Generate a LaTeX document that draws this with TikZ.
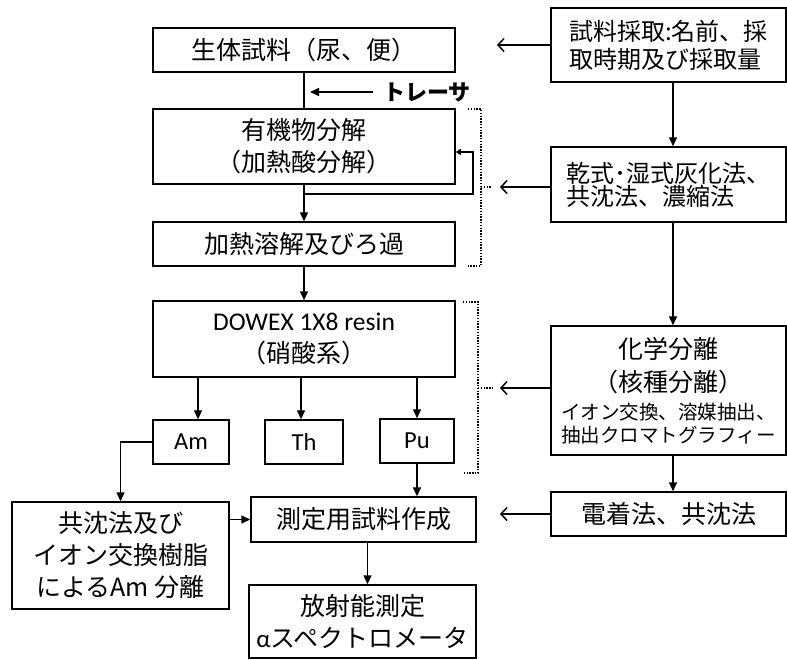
\documentclass[tikz,border=0pt]{standalone}
\usepackage{fontspec}
\setmainfont{Noto Sans CJK JP}
\newfontfamily\lat{Carlito}
\usetikzlibrary{arrows.meta}
\newcommand\fs[2]{\fontsize{#1}{#2}\selectfont}
\begin{document}
\begin{tikzpicture}[x=1pt,y=-1pt,
 box/.style={draw,line width=1.5pt,inner sep=0pt,align=center,font=\fs{25}{32}},
 arr/.style={line width=1.5pt,-{Triangle[length=9pt,width=8pt]}},
 sarr/.style={line width=1.5pt,-{Triangle[length=5pt,width=6pt]}},
 openarr/.style={line width=1.5pt,-{Straight Barb[length=6pt,width=13pt,line width=1.5pt]}},
 ln/.style={line width=1.5pt},
 dotline/.style={line width=1.6pt,dash pattern=on 1.4pt off 1.4pt}]
\useasboundingbox (0,0) rectangle (787,659);
% left column
\node[box,minimum width=302pt,minimum height=44pt] (b1) at (304,50) {生体試料（尿、便）};
\node[box,minimum width=302pt,minimum height=75pt] (b2) at (304,146.5) {有機物分解\\（加熱酸分解）};
\node[box,minimum width=302pt,minimum height=44pt] (b3) at (304,244) {加熱溶解及びろ過};
\node[box,minimum width=302pt,minimum height=76pt] (dw) at (304,339) {{\lat\fs{25.5}{32}DOWEX 1X8 resin}\\（硝酸系）};
\node[box,minimum width=76pt,minimum height=44pt,font=\lat\fs{24.5}{30}] (am) at (191,442) {Am};
\node[box,minimum width=78pt,minimum height=44pt,font=\lat\fs{24.5}{30}] (th) at (304,442) {Th};
\node[box,minimum width=74pt,minimum height=44pt,font=\lat\fs{24.5}{30}] (pu) at (417,441) {Pu};
\node[box,minimum width=217pt,minimum height=107pt] (kb) at (120.5,555.5) {共沈法及び\\イオン交換樹脂\\によるAm 分離};
\node[box,minimum width=225pt,minimum height=45pt] (ms) at (363.5,519.5) {測定用試料作成};
\node[box,minimum width=227pt,minimum height=73pt] (rd) at (362.5,621.5) {放射能測定\\{\lat α}スペクトロメータ};
% right column
\node[box,minimum width=235pt,minimum height=74pt,align=left,font=\fs{24}{28}] (s1) at (668.5,45) {試料採取:名前、採\\取時期及び採取量};
\node[box,minimum width=235pt,minimum height=75pt,align=left,font=\fs{24}{23}] (s2) at (668.5,184.5) {乾式･湿式灰化法、\\共沈法、濃縮法};
\node[box,minimum width=235pt,minimum height=129pt,text width=235pt] (s3) at (668.5,390.5) {{\fs{25}{33}化学分離\par（核種分離）\par}{\fs{19.5}{28}イオン交換、溶媒抽出、\par}{\fs{19.5}{23}抽出クロマトグラフィー\par}};
\node[box,minimum width=235pt,minimum height=44pt] (s4) at (668.5,514) {電着法、共沈法};
% tracer
\node[anchor=west,inner sep=0pt,font=\bfseries\fs{22}{26}] (tr) at (383,92) {トレーサ};
\coordinate (trp) at (304,92);
\draw[arr] ([xshift=-10pt]tr.west) -- ([xshift=6pt]trp);
% spine
\draw[ln] (b1.south) -- (b2.north);
\draw[arr] (b2.south) -- (b3.north);
\draw[arr] (b3.south) -- (dw.north);
% feedback loop
\coordinate (fa) at (304,194);
\coordinate (fb) at (473,194);
\coordinate (fc) at (473,152);
\draw[sarr] (fa) -- (fb) -- (fc) -- (b2.east |- fc);
% DOWEX to elements
\draw[arr] ([xshift=7pt]am.north |- dw.south) -- ([xshift=7pt]am.north);
\draw[arr] ([xshift=-3pt]th.north |- dw.south) -- ([xshift=-3pt]th.north);
\draw[arr] (pu.north |- dw.south) -- (pu.north);
% Am to kb
\draw[arr] (am.west) -- (kb.north |- am.west) -- (kb.north);
\draw[arr] (kb.east |- ms.west) -- (ms.west);
\draw[arr] (pu.south) -- (pu.south |- ms.north);
\draw[arr] ([xshift=4pt]ms.south) -- ([xshift=4pt]ms.south |- rd.north);
% right column arrows
\coordinate (cx) at (673,0);
\draw[arr] (s1.south -| cx) -- (s2.north -| cx);
\draw[arr] (s2.south -| cx) -- (s3.north -| cx);
\draw[arr] (s3.south -| cx) -- (s4.north -| cx);
% brackets
\coordinate (k1) at (492,187);
\coordinate (k2) at (493,388);
\draw[dotline] (468,109) -- (481,109) -- (481,266) -- (468,266);
\draw[dotline] (481,187) -- (k1);
\draw[dotline] (463,302) -- (478,302) -- (478,473) -- (463,473);
\draw[dotline] (478,388) -- (k2);
% left-pointing open arrows
\coordinate (e1) at (497,45);
\coordinate (e4) at (500,514);
\draw[openarr] (s1.west) -- (e1);
\draw[openarr] (s2.west |- k1) -- ([xshift=8pt]k1);
\draw[openarr] (s3.west |- k2) -- ([xshift=7pt]k2);
\draw[openarr] (s4.west) -- (e4);
\end{tikzpicture}
\end{document}
